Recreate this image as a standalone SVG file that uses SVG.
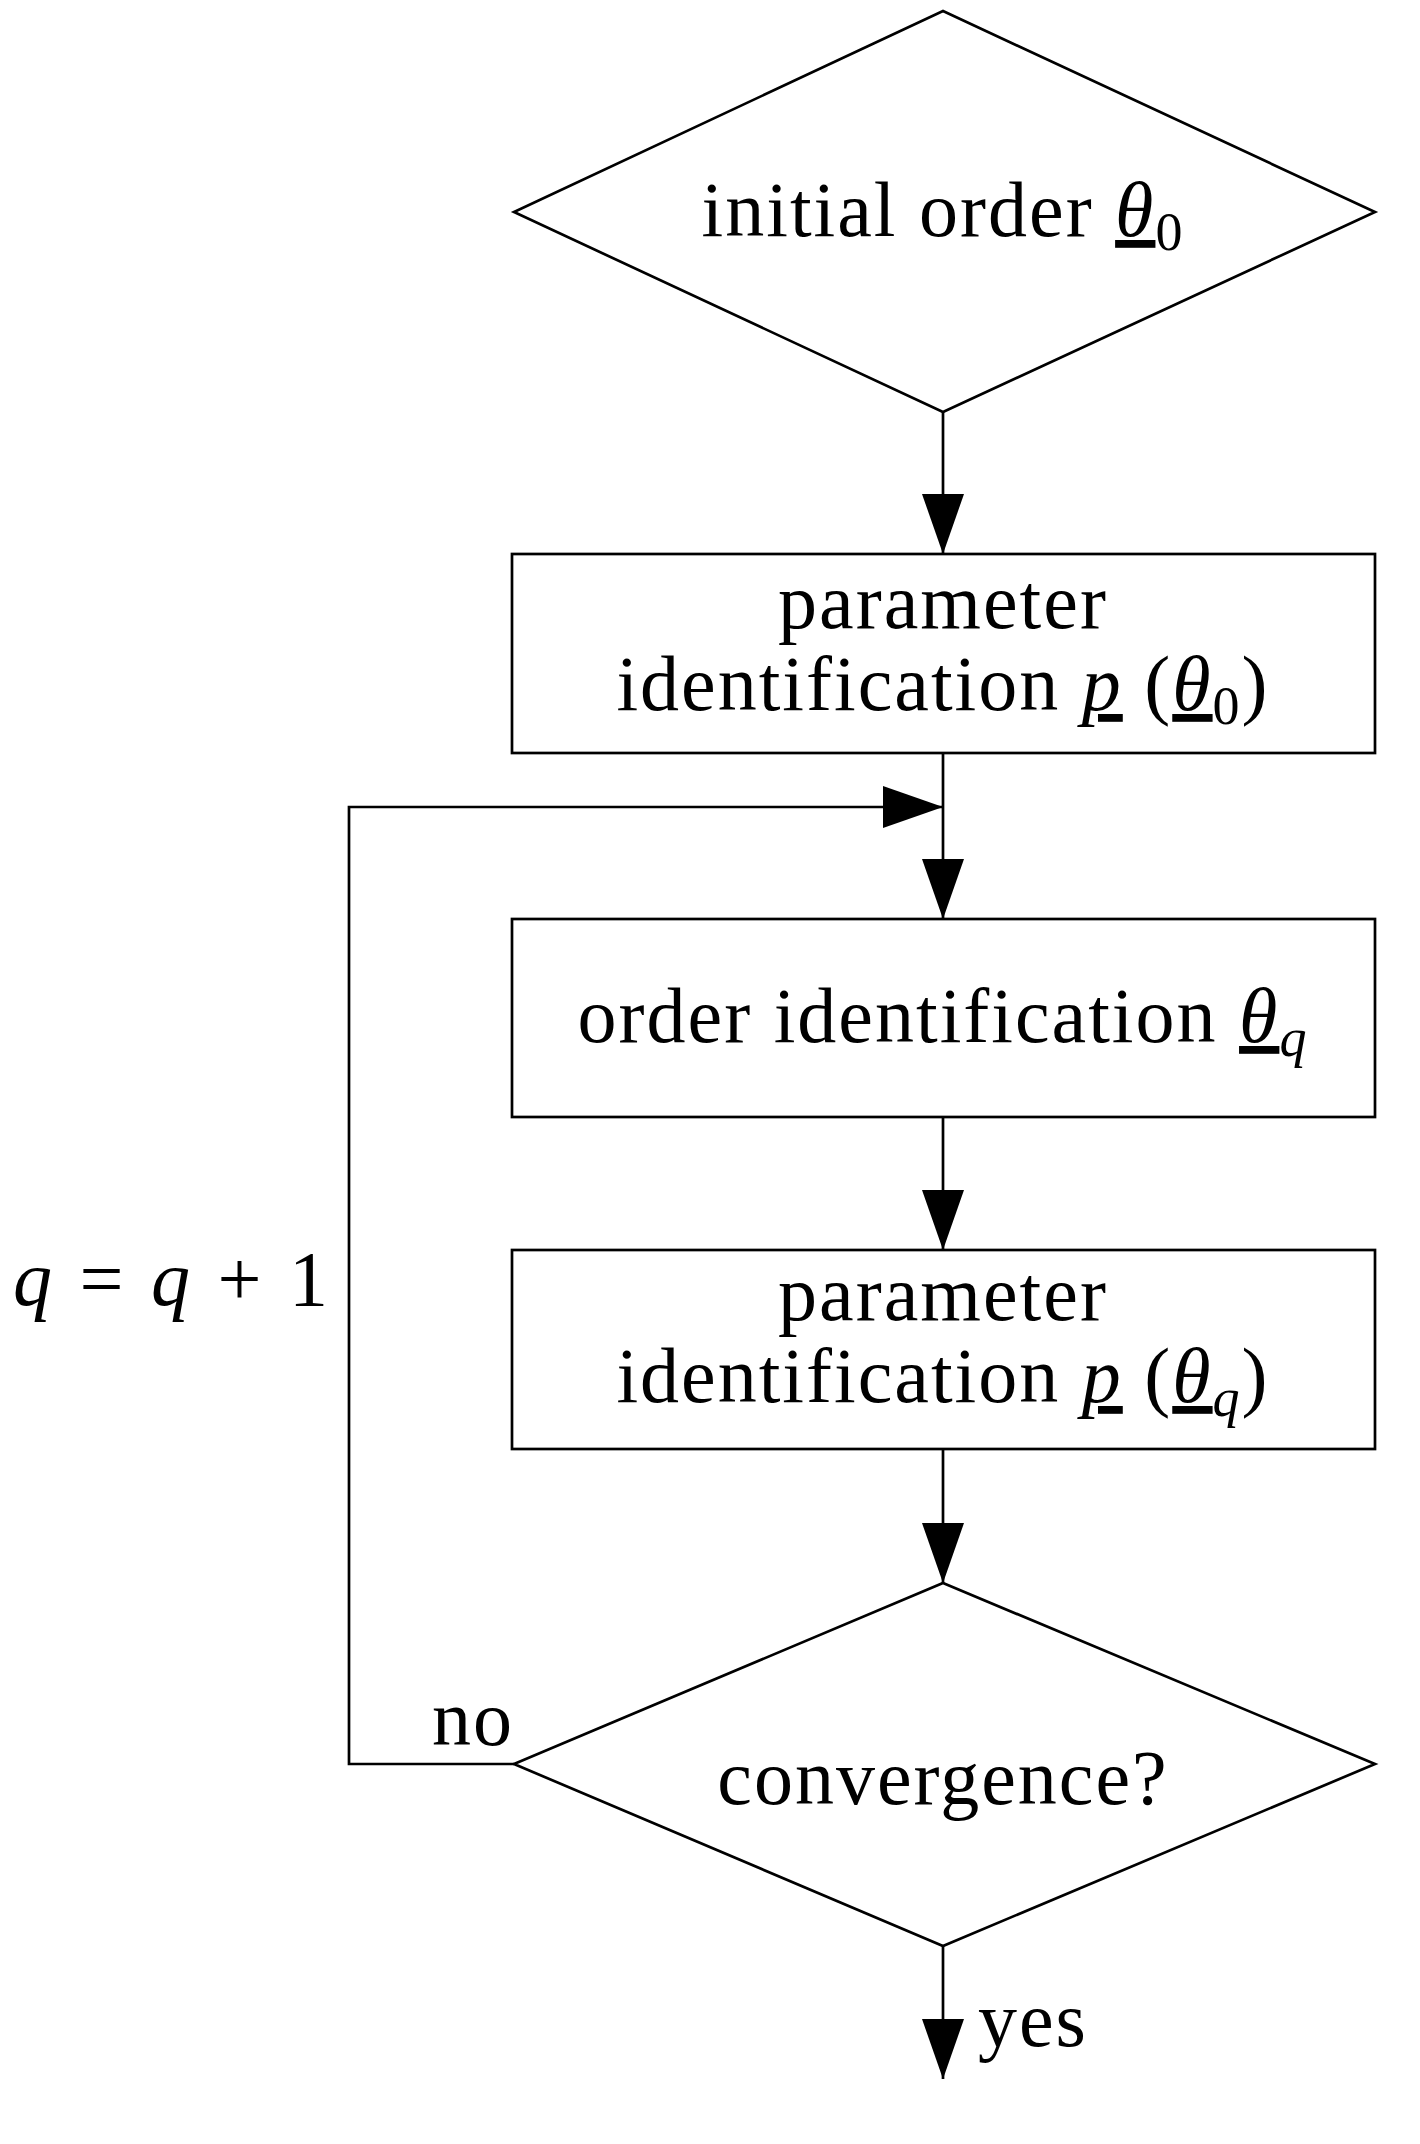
<svg xmlns="http://www.w3.org/2000/svg" width="1420" height="2144" viewBox="0 0 1420 2144">
<style>
.s{fill:none;stroke:#000;stroke-width:2.7}
.n{fill:#fff;stroke:#000;stroke-width:2.7}
text{font-family:"Liberation Serif","DejaVu Serif",serif;font-size:78px;fill:#000;letter-spacing:2px}
.m{font-style:italic}
.u{text-decoration:underline}
.sub{font-size:54px}
</style>
<defs>
<marker id="a" markerWidth="60" markerHeight="42" refX="60" refY="21" orient="auto" markerUnits="userSpaceOnUse">
<path d="M0,0 L60,21 L0,42 Z" fill="#000"/>
</marker>
</defs>
<g id="connectors">
<line class="s" x1="943" y1="412" x2="943" y2="554" marker-end="url(#a)"/>
<line class="s" x1="943" y1="745" x2="943" y2="919" marker-end="url(#a)"/>
<line class="s" x1="943" y1="1117" x2="943" y2="1250" marker-end="url(#a)"/>
<line class="s" x1="943" y1="1449" x2="943" y2="1583" marker-end="url(#a)"/>
<line class="s" x1="943" y1="1946" x2="943" y2="2079" marker-end="url(#a)"/>
<polyline class="s" points="514,1764 349,1764 349,807 943,807" marker-end="url(#a)"/>
<text x="473" y="1745" text-anchor="middle">no</text>
<text x="332" y="1305" text-anchor="end" style="letter-spacing:4px"><tspan class="m">q</tspan> = <tspan class="m">q</tspan> + 1</text>
<text x="978" y="2046">yes</text>
</g>
<g id="start">
<polygon class="n" points="943,11 1375,212 943,412 514,212"/>
<text x="943" y="236" text-anchor="middle">initial order <tspan class="m u">θ</tspan><tspan class="sub" dy="14">0</tspan></text>
</g>
<g id="param0">
<rect class="n" x="512" y="554" width="863" height="199"/>
<text x="943" y="628" text-anchor="middle">parameter</text>
<text x="943" y="710" text-anchor="middle">identification <tspan class="m u">p</tspan> (<tspan class="m u">θ</tspan><tspan class="sub" dy="14">0</tspan><tspan dy="-14">)</tspan></text>
</g>
<g id="order">
<rect class="n" x="512" y="919" width="863" height="198"/>
<text x="943" y="1042" text-anchor="middle">order identification <tspan class="m u">θ</tspan><tspan class="sub m" dy="14">q</tspan></text>
</g>
<g id="paramq">
<rect class="n" x="512" y="1250" width="863" height="199"/>
<text x="943" y="1320" text-anchor="middle">parameter</text>
<text x="943" y="1402" text-anchor="middle">identification <tspan class="m u">p</tspan> (<tspan class="m u">θ</tspan><tspan class="sub m" dy="14">q</tspan><tspan dy="-14">)</tspan></text>
</g>
<g id="convergence">
<polygon class="n" points="943,1583 1375,1764 943,1946 514,1764"/>
<text x="943" y="1804" text-anchor="middle">convergence?</text>
</g>
</svg>
